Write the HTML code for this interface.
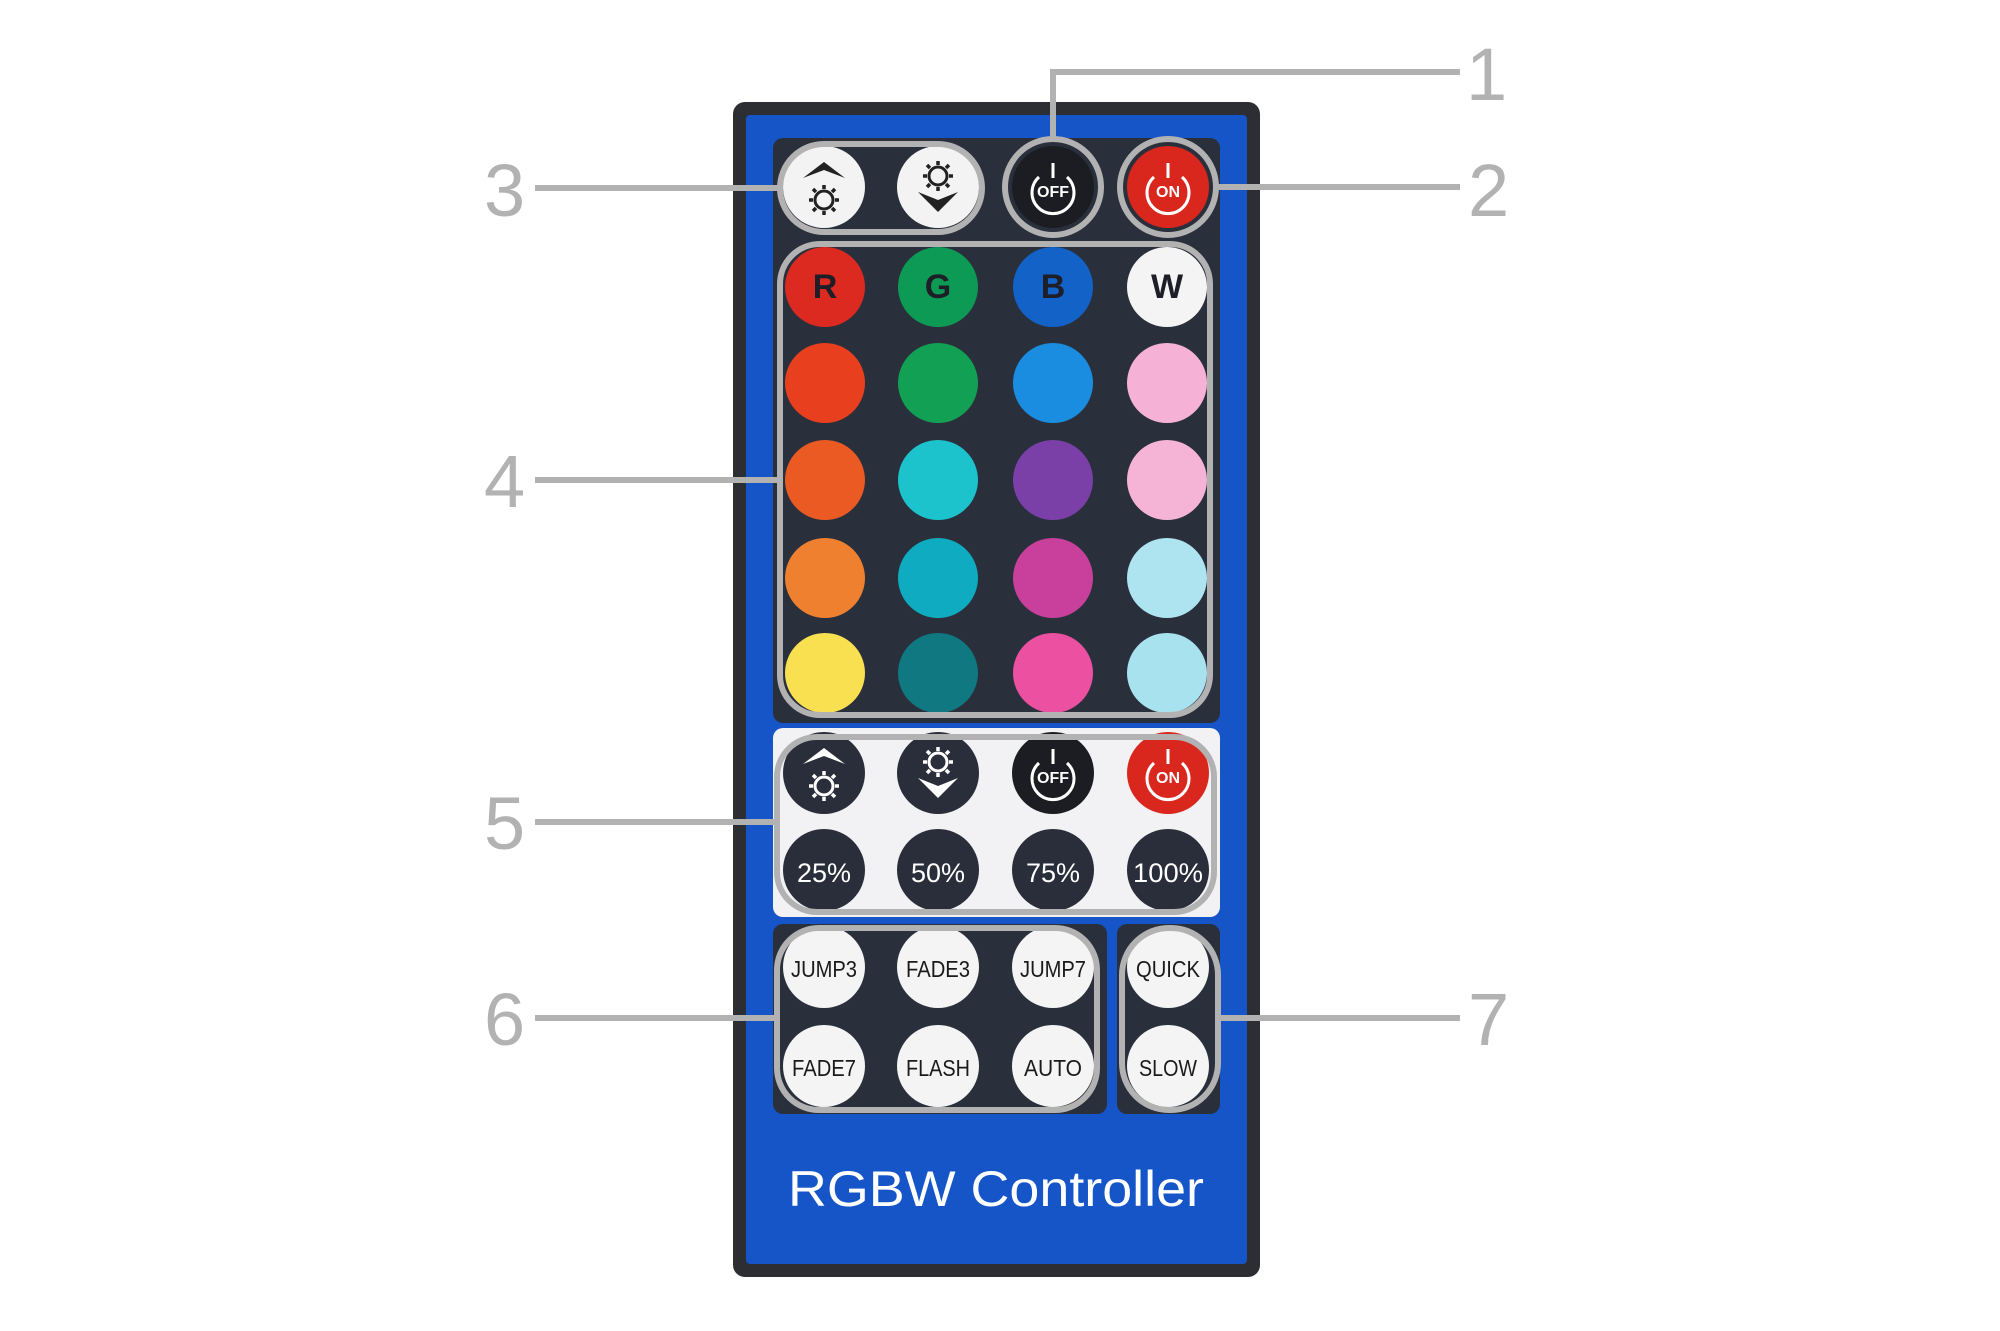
<!DOCTYPE html>
<html><head><meta charset="utf-8"><style>
html,body{margin:0;padding:0;background:#fff;}
svg{display:block;}
</style></head><body>
<svg width="2000" height="1331" viewBox="0 0 2000 1331" xmlns="http://www.w3.org/2000/svg" font-family="Liberation Sans, sans-serif">
<defs>
<g id="sun"><circle r="9" fill="none" stroke-width="3"/><g stroke-width="3.5"><line x1="0" y1="-11" x2="0" y2="-15"/><line x1="0" y1="11" x2="0" y2="15"/><line x1="-11" y1="0" x2="-15" y2="0"/><line x1="11" y1="0" x2="15" y2="0"/><line x1="8" y1="8" x2="11" y2="11"/><line x1="-8" y1="-8" x2="-11" y2="-11"/><line x1="8" y1="-8" x2="11" y2="-11"/><line x1="-8" y1="8" x2="-11" y2="11"/></g></g>
</defs>
<rect x="733" y="102" width="527" height="1175" rx="12" fill="#2c2e34"/>
<rect x="746" y="115" width="501" height="1149" rx="4" fill="#1555c8"/>
<rect x="773" y="138" width="447" height="585" rx="10" fill="#2a2f3c"/>
<rect x="773" y="728" width="447" height="189" rx="10" fill="#f2f2f4"/>
<rect x="773" y="924" width="334" height="190" rx="10" fill="#2a2f3c"/>
<rect x="1117" y="924" width="103" height="190" rx="10" fill="#2a2f3c"/>

<circle cx="824" cy="187" r="41" fill="#f3f3f3"/>
<circle cx="938" cy="187" r="41" fill="#f3f3f3"/>
<circle cx="1053" cy="187" r="41" fill="#1c1d22"/>
<circle cx="1168" cy="187" r="41" fill="#d9271d"/>
<path d="M803 178 L824 162 L845 178 L824 170 Z" fill="#222"/>
<use href="#sun" x="824" y="200" stroke="#222"/>
<use href="#sun" x="938" y="176" stroke="#222"/>
<path d="M918 192 L938 212 L958 192 L938 200 Z" fill="#222"/>
<g fill="none" stroke="#fff" stroke-width="3"><path d="M1039 177 A21 21 0 1 0 1067 177"/><line x1="1053" y1="163" x2="1053" y2="178"/><path d="M1154 177 A21 21 0 1 0 1182 177"/><line x1="1168" y1="163" x2="1168" y2="178"/></g>
<text x="1053" y="197" font-size="16" font-weight="bold" fill="#fff" text-anchor="middle">OFF</text>
<text x="1168" y="197" font-size="16" font-weight="bold" fill="#fff" text-anchor="middle">ON</text>

<g>
<circle cx="825" cy="287" r="40" fill="#dc2a20"/><circle cx="938" cy="287" r="40" fill="#0d9a55"/><circle cx="1053" cy="287" r="40" fill="#1262c8"/><circle cx="1167" cy="287" r="40" fill="#f4f4f4"/>
<circle cx="825" cy="383" r="40" fill="#e8401e"/><circle cx="938" cy="383" r="40" fill="#12a055"/><circle cx="1053" cy="383" r="40" fill="#1a8de0"/><circle cx="1167" cy="383" r="40" fill="#f5b2d6"/>
<circle cx="825" cy="480" r="40" fill="#ec5a24"/><circle cx="938" cy="480" r="40" fill="#1cc2cc"/><circle cx="1053" cy="480" r="40" fill="#7a40a8"/><circle cx="1167" cy="480" r="40" fill="#f5b4d6"/>
<circle cx="825" cy="578" r="40" fill="#ee8030"/><circle cx="938" cy="578" r="40" fill="#0fabc0"/><circle cx="1053" cy="578" r="40" fill="#c8409c"/><circle cx="1167" cy="578" r="40" fill="#aee4f0"/>
<circle cx="825" cy="673" r="40" fill="#f8e050"/><circle cx="938" cy="673" r="40" fill="#0f7880"/><circle cx="1053" cy="673" r="40" fill="#ec50a0"/><circle cx="1167" cy="673" r="40" fill="#a8e2ee"/>
</g>
<g font-size="34" font-weight="bold" fill="#1e1e28" text-anchor="middle">
<text x="825" y="298">R</text><text x="938" y="298">G</text><text x="1053" y="298">B</text><text x="1167" y="298">W</text>
</g>

<circle cx="824" cy="773" r="41" fill="#2a2e3a"/>
<circle cx="938" cy="773" r="41" fill="#2a2e3a"/>
<circle cx="1053" cy="773" r="41" fill="#1c1d22"/>
<circle cx="1168" cy="773" r="41" fill="#d9271d"/>
<path d="M803 764 L824 748 L845 764 L824 756 Z" fill="#fff"/>
<use href="#sun" x="824" y="786" stroke="#fff"/>
<use href="#sun" x="938" y="762" stroke="#fff"/>
<path d="M918 778 L938 798 L958 778 L938 786 Z" fill="#fff"/>
<g fill="none" stroke="#fff" stroke-width="3"><path d="M1039 763 A21 21 0 1 0 1067 763"/><line x1="1053" y1="749" x2="1053" y2="764"/><path d="M1154 763 A21 21 0 1 0 1182 763"/><line x1="1168" y1="749" x2="1168" y2="764"/></g>
<text x="1053" y="783" font-size="16" font-weight="bold" fill="#fff" text-anchor="middle">OFF</text>
<text x="1168" y="783" font-size="16" font-weight="bold" fill="#fff" text-anchor="middle">ON</text>
<circle cx="824" cy="870" r="41" fill="#2a2e3a"/><circle cx="938" cy="870" r="41" fill="#2a2e3a"/><circle cx="1053" cy="870" r="41" fill="#2a2e3a"/><circle cx="1168" cy="870" r="41" fill="#2a2e3a"/>
<g font-size="27" fill="#fff" text-anchor="middle">
<text x="824" y="882">25%</text><text x="938" y="882">50%</text><text x="1053" y="882">75%</text><text x="1168" y="882" textLength="70" lengthAdjust="spacingAndGlyphs">100%</text>
</g>

<g fill="#f4f4f4">
<circle cx="824" cy="967" r="41"/><circle cx="938" cy="967" r="41"/><circle cx="1053" cy="967" r="41"/><circle cx="1168" cy="967" r="41"/>
<circle cx="824" cy="1066" r="41"/><circle cx="938" cy="1066" r="41"/><circle cx="1053" cy="1066" r="41"/><circle cx="1168" cy="1066" r="41"/>
</g>
<g font-size="23" fill="#1a1a1a" text-anchor="middle">
<text x="824" y="977" textLength="66" lengthAdjust="spacingAndGlyphs">JUMP3</text>
<text x="938" y="977" textLength="64" lengthAdjust="spacingAndGlyphs">FADE3</text>
<text x="1053" y="977" textLength="66" lengthAdjust="spacingAndGlyphs">JUMP7</text>
<text x="1168" y="977" textLength="64" lengthAdjust="spacingAndGlyphs">QUICK</text>
<text x="824" y="1076" textLength="64" lengthAdjust="spacingAndGlyphs">FADE7</text>
<text x="938" y="1076" textLength="64" lengthAdjust="spacingAndGlyphs">FLASH</text>
<text x="1053" y="1076" textLength="58" lengthAdjust="spacingAndGlyphs">AUTO</text>
<text x="1168" y="1076" textLength="58" lengthAdjust="spacingAndGlyphs">SLOW</text>
</g>

<text x="996" y="1206" font-size="50" fill="#fff" text-anchor="middle" textLength="416" lengthAdjust="spacingAndGlyphs">RGBW  Controller</text>

<g fill="none" stroke="#b2b2b2" stroke-width="6">
<rect x="780" y="144" width="202" height="88" rx="44"/>
<circle cx="1053" cy="187" r="48"/>
<circle cx="1168" cy="187" r="48"/>
<rect x="780" y="244" width="430" height="471" rx="40"/>
<rect x="777" y="737" width="437" height="175" rx="40"/>
<rect x="777" y="928" width="320" height="182" rx="42"/>
<rect x="1122" y="928" width="96" height="182" rx="47"/>
<polyline points="1053,139 1053,72 1460,72"/>
<line x1="1216" y1="187" x2="1460" y2="187"/>
<line x1="535" y1="188" x2="780" y2="188"/>
<line x1="535" y1="480" x2="780" y2="480"/>
<line x1="535" y1="822" x2="777" y2="822"/>
<line x1="535" y1="1018" x2="777" y2="1018"/>
<line x1="1218" y1="1018" x2="1460" y2="1018"/>
</g>
<g font-size="74" fill="#b2b2b2">
<text x="1466" y="100">1</text>
<text x="1468" y="216">2</text>
<text x="484" y="216">3</text>
<text x="484" y="507">4</text>
<text x="484" y="849">5</text>
<text x="484" y="1045">6</text>
<text x="1468" y="1045">7</text>
</g>
</svg>
</body></html>
